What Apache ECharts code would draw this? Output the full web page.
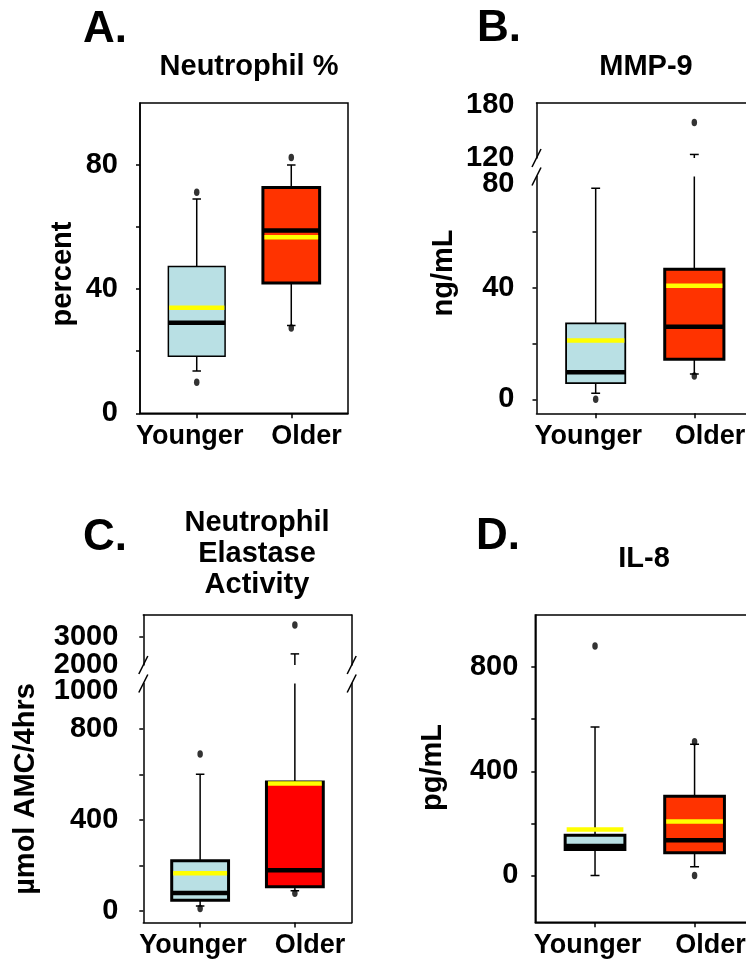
<!DOCTYPE html>
<html><head><meta charset="utf-8">
<script src="https://cdn.jsdelivr.net/npm/echarts@6/dist/echarts.min.js"></script>
<style>html,body{margin:0;padding:0;background:#fff}#c{width:746px;height:965px}</style>
</head><body><div id="c"></div>
<script>
// ---------- data ----------
const categories = ['Younger', 'Older'];

// A. Neutrophil %
const neutLow = [13.6, 28.3];
const neutQ1 = [18.4, 42.0];
const neutMedian = [29.2, 58.9];
const neutQ3 = [47.3, 72.8];
const neutHigh = [69.1, 80.0];
const neutMean = [34.0, 56.7];
const neutOutliers = [[71.2, 10.0], [82.4, 27.5]];
const neutTicks = [0, 20, 40, 60, 80];
const neutLabels = [0, 40, 80];

// B. MMP-9
const mmpLow = [2.2, 9.1];
const mmpQ1 = [5.8, 14.4];
const mmpMedian = [9.7, 26.1];
const mmpQ3 = [27.3, 46.7];
const mmpHigh = [75.8, 124];
const mmpMean = [21.1, 40.8];
const mmpOutliers = [[0.0], [160, 8.4]];
const mmpLowerTicks = [0, 20, 40, 60];
const mmpLowerLabels = [0, 40, 80];
const mmpUpperLabels = [120, 180];

// C. Neutrophil Elastase Activity
const elaLow = [22, 89];
const elaQ1 = [48, 107];
const elaMedian = [80, 180];
const elaQ3 = [221, 567];
const elaHigh = [601, 2400];
const elaMean = [166, 561];
const elaOutliers = [[690, 12], [3440, 78]];
const elaLowerTicks = [0, 200, 400, 600, 800];
const elaLowerLabels = [0, 400, 800, 1000];
const elaUpperTicks = [3000];
const elaUpperLabels = [3000];
const elaBreakLabels = [2000];

// D. IL-8
const il8Low = [0, 33];
const il8Q1 = [100, 87];
const il8Median = [113, 135];
const il8Q3 = [154, 304];
const il8High = [570, 504];
const il8Mean = [176, 207];
const il8Outliers = [[881], [513, 0]];
const il8Ticks = [0, 200, 400, 600, 800];
const il8Labels = [0, 400, 800];

// ---------- styles / layout ----------
const FONT = '"Liberation Sans", Arial, Helvetica, sans-serif';
const BLUE = '#B9E0E4', ORANGE = '#FF3300', RED = '#FF0000', YELLOW = '#FFFF00';
const labelShift = [-0.075, 0.16];

const G = {
  A:  {left: 140,   top: 103,   width: 208,   height: 310.3},
  Bu: {left: 536.5, top: 103,   width: 217,   height: 55},
  Bl: {left: 536.5, top: 176.5, width: 217,   height: 236.8},
  Cu: {left: 143.3, top: 615,   width: 208.4, height: 50},
  Cl: {left: 143.3, top: 683.5, width: 208.4, height: 239},
  D:  {left: 535.3, top: 615,   width: 219,   height: 307.3}
};

function boxData(low, q1, med, q3, high, mean) {
  return categories.map((c, i) => [i, low[i], q1[i], med[i], q3[i], high[i], mean[i]]);
}
function outlierData(out) {
  const d = [];
  out.forEach((arr, i) => arr.forEach(v => d.push([i, v])));
  return d;
}

function boxRenderer(fills, borders) {
  return function (params, api) {
    const i = params.dataIndex;
    const x = api.value(0);
    const lo = api.coord([x, api.value(1)]);
    const q1 = api.coord([x, api.value(2)]);
    const md = api.coord([x, api.value(3)]);
    const q3 = api.coord([x, api.value(4)]);
    const hi = api.coord([x, api.value(5)]);
    const mn = api.coord([x, api.value(6)]);
    const bw = api.size([0.6, 0])[0];
    const cw = api.size([0.09, 0])[0];
    const cx = lo[0];
    const b = borders[i];
    const line = (x1, y1, x2, y2, w, c) => ({type: 'line', shape: {x1, y1, x2, y2}, style: {stroke: c, lineWidth: w}});
    return {type: 'group', children: [
      line(cx, q3[1], cx, hi[1], 1.5, '#000'),
      line(cx - cw / 2, hi[1], cx + cw / 2, hi[1], 1.5, '#000'),
      line(cx, q1[1], cx, lo[1], 1.5, '#000'),
      line(cx - cw / 2, lo[1], cx + cw / 2, lo[1], 1.5, '#000'),
      {type: 'rect', shape: {x: cx - bw / 2, y: q3[1], width: bw, height: q1[1] - q3[1]},
        style: {fill: fills[i], stroke: '#000', lineWidth: b}},
      line(cx - bw / 2, md[1], cx + bw / 2, md[1], 4.5, '#000'),
      line(cx - bw / 2 + b / 2, mn[1], cx + bw / 2 - b / 2, mn[1], 4.5, YELLOW)
    ]};
  };
}

const lineStyle = {color: '#000', width: 1.5};
const txtX = {color: '#000', fontFamily: FONT, fontWeight: 'bold', fontSize: 27};
const txtY = {color: '#000', fontFamily: FONT, fontWeight: 'bold', fontSize: 29};

function xBottom(gridIndex) {
  return {
    type: 'value', gridIndex, position: 'bottom', min: -0.6, max: 1.6,
    splitLine: {show: false},
    axisLine: {show: true, onZero: false, lineStyle},
    axisTick: {show: true, customValues: [0, 1], length: 5, inside: false, lineStyle},
    axisLabel: Object.assign({
      customValues: categories.map((c, i) => i + labelShift[i]),
      formatter: v => categories[Math.round(v)],
      margin: 23, verticalAlign: 'middle', showMinLabel: true, showMaxLabel: true
    }, txtX)
  };
}
function xTop(gridIndex) {
  return {
    type: 'value', gridIndex, position: 'top', min: -0.6, max: 1.6,
    splitLine: {show: false},
    axisLine: {show: true, onZero: false, lineStyle},
    axisTick: {show: false}, axisLabel: {show: false}
  };
}
function yLeft(gridIndex, min, max, ticks, labels, margin, shiftVals, noLine) {
  return {
    type: 'value', gridIndex, position: 'left', min, max,
    splitLine: {show: false},
    axisLine: {show: !noLine, onZero: false, lineStyle},
    axisTick: {show: ticks.length > 0, customValues: ticks, length: 4, inside: false, lineStyle},
    axisLabel: Object.assign({
      customValues: labels, margin, showMinLabel: true, showMaxLabel: true, hideOverlap: false,
      formatter: v => (shiftVals && shiftVals.indexOf(v) >= 0) ? '{lo|' + v + '}' : String(v),
      rich: {lo: Object.assign({}, txtY, {padding: [15, 0, 0, 0]})}
    }, txtY)
  };
}
function yRight(gridIndex) {
  return {
    type: 'value', gridIndex, position: 'right', min: 0, max: 1,
    splitLine: {show: false},
    axisLine: {show: true, onZero: false, lineStyle},
    axisTick: {show: false}, axisLabel: {show: false}
  };
}

function seriesPair(xi, yi, data, outliers, fills, borders) {
  return [
    {type: 'custom', xAxisIndex: xi, yAxisIndex: yi, clip: true, silent: true,
      renderItem: boxRenderer(fills, borders), data},
    {type: 'scatter', xAxisIndex: xi, yAxisIndex: yi, clip: true, silent: true,
      symbol: 'circle', symbolSize: [5.5, 7.5], itemStyle: {color: '#000'},
      data: outliers, z: 5}
  ];
}

const neutBox = boxData(neutLow, neutQ1, neutMedian, neutQ3, neutHigh, neutMean);
const mmpBox = boxData(mmpLow, mmpQ1, mmpMedian, mmpQ3, mmpHigh, mmpMean);
const elaBox = boxData(elaLow, elaQ1, elaMedian, elaQ3, elaHigh, elaMean);
const il8Box = boxData(il8Low, il8Q1, il8Median, il8Q3, il8High, il8Mean);

const gridBase = {containLabel: false, outerBoundsMode: 'none'};
const grids = [
  Object.assign({show: true, borderColor: '#000', borderWidth: 1.5}, gridBase, G.A),
  Object.assign({}, gridBase, G.Bu),
  Object.assign({}, gridBase, G.Bl),
  Object.assign({}, gridBase, G.Cu),
  Object.assign({}, gridBase, G.Cl),
  Object.assign({show: true, borderColor: '#000', borderWidth: 1.5}, gridBase, G.D)
];

function slash(x, y) {
  return {type: 'line', shape: {x1: x - 4.5, y1: y + 9, x2: x + 4.5, y2: y - 9},
    style: {stroke: '#000', lineWidth: 1.5}};
}
function text(t, x, y, size, lineHeight) {
  const s = {text: t, fill: '#000', font: 'bold ' + size + 'px ' + FONT, align: 'center', verticalAlign: 'middle'};
  if (lineHeight) s.lineHeight = lineHeight;
  return {type: 'text', x, y, style: s};
}
function vtext(t, x, y) {
  return {type: 'text', x, y, rotation: Math.PI / 2, style: {text: t, fill: '#000',
    font: 'bold 29px ' + FONT, align: 'center', verticalAlign: 'middle'}};
}
function letter(t, x, y) {
  return {type: 'text', x, y, style: {text: t, fill: '#000',
    font: 'bold 44px ' + FONT, align: 'left', verticalAlign: 'middle'}};
}

const BuBottom = G.Bu.top + G.Bu.height, BlTop = G.Bl.top;
const CuBottom = G.Cu.top + G.Cu.height, ClTop = G.Cl.top;
const CRight = G.Cu.left + G.Cu.width;

const option = {
  animation: false,
  backgroundColor: '#fff',
  grid: grids,
  xAxis: [xBottom(0), xTop(1), xBottom(2), xTop(3), xBottom(4), xBottom(5)],
  yAxis: [
    yLeft(0, 0, 100, neutTicks, neutLabels, 22),
    yLeft(1, 120, 182, [], mmpUpperLabels, 22),
    yRight(1),
    yLeft(2, -5, 80, mmpLowerTicks, mmpLowerLabels, 22, [80]),
    yRight(2),
    yLeft(3, 2000, 3800, elaUpperTicks, elaUpperLabels, 25),
    yRight(3),
    yLeft(4, -50, 1000, elaLowerTicks, elaLowerLabels, 25, [1000]),
    yRight(4),
    yLeft(5, -180, 1000, il8Ticks, il8Labels, 17),
    yLeft(3, 2000, 3800, [], elaBreakLabels, 25, null, true)
  ],
  series: [].concat(
    seriesPair(0, 0, neutBox, outlierData(neutOutliers), [BLUE, ORANGE], [1.5, 3]),
    seriesPair(1, 1, mmpBox, outlierData(mmpOutliers), [BLUE, ORANGE], [1.8, 3]),
    seriesPair(2, 3, mmpBox, outlierData(mmpOutliers), [BLUE, ORANGE], [1.8, 3]),
    seriesPair(3, 5, elaBox, outlierData(elaOutliers), [BLUE, RED], [3, 3]),
    seriesPair(4, 7, elaBox, outlierData(elaOutliers), [BLUE, RED], [3, 3]),
    seriesPair(5, 9, il8Box, outlierData(il8Outliers), [BLUE, ORANGE], [3, 3])
  ),
  graphic: [
    letter('A.', 83, 30),
    letter('B.', 477, 29),
    letter('C.', 83, 538),
    letter('D.', 476, 537),
    text('Neutrophil %', 249, 66.5, 29),
    text('MMP-9', 646, 66.5, 29),
    text('Neutrophil\nElastase\nActivity', 257, 554, 29, 31.3),
    text('IL-8', 644, 558.5, 29),
    vtext('percent', 63, 274),
    vtext('ng/mL', 443.5, 273),
    vtext('\u00b5mol AMC/4hrs', 26, 789),
    vtext('pg/mL', 432.5, 767.5),
    slash(G.Bu.left, BuBottom), slash(G.Bl.left, BlTop),
    slash(G.Cu.left, CuBottom), slash(G.Cl.left, ClTop),
    slash(CRight, CuBottom), slash(CRight, ClTop)
  ]
};

const chart = echarts.init(document.getElementById('c'), null, {renderer: 'canvas'});
chart.setOption(option);
</script>
</body></html>
